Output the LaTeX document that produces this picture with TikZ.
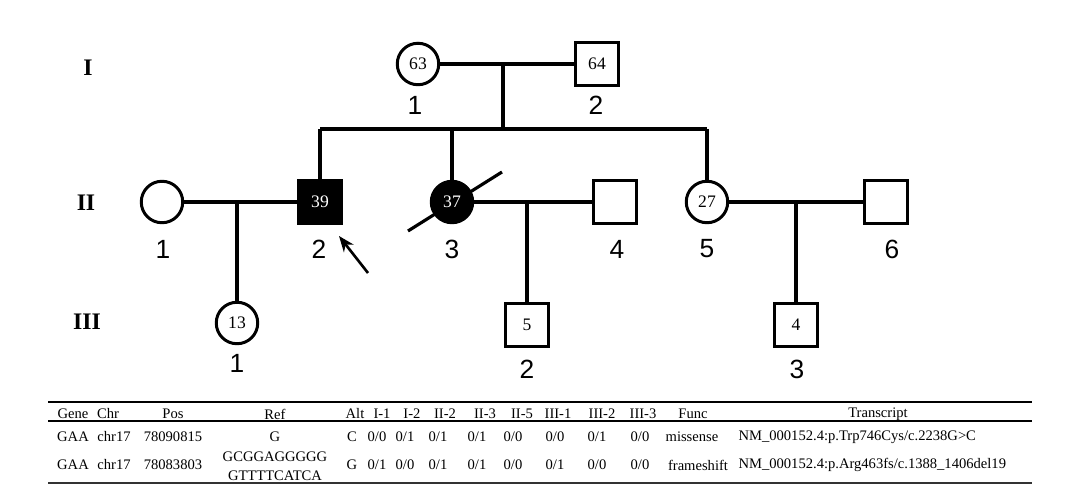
\documentclass[tikz,border=0pt]{standalone}
\usepackage{fontspec}
\setmainfont{Liberation Serif}
\newfontfamily\arialfont{Liberation Sans}
\usetikzlibrary{arrows.meta}

\begin{document}
\begin{tikzpicture}[x=0.02cm, y=-0.02cm,
    line width=1.8pt,
    person/.style={draw, line width=1.7pt, inner sep=0pt, font=\fontsize{10}{12}\selectfont},
    female/.style={person, circle, minimum size=0.83cm},
    male/.style={person, rectangle, minimum size=0.86cm},
    affected/.style={fill=black, text=white},
    idlab/.style={font=\arialfont\fontsize{15}{18}\selectfont},
    genlab/.style={font=\bfseries\fontsize{13.5}{16}\selectfont},
    cell/.style={font=\fontsize{8.3}{11}\selectfont, inner sep=0pt, align=center}]
    \useasboundingbox (0,0) rectangle (1080,503);

    % generations
    \node[genlab] (gI)   at (88,68)  {I};
    \node[genlab] (gII)  at (86,203) {II};
    \node[genlab] (gIII) at (87,322) {III};

    % deceased mark, under the symbol
    \coordinate (sl1) at (408,231);
    \coordinate (sl2) at (502,172);
    \draw (sl1) -- (sl2);

    % generation I
    \node[female] (I1) at (418,64) {63};
    \node[male]   (I2) at (597,64) {64};
    \node[idlab] (I1n) at (415,105) {1};
    \node[idlab] (I2n) at (596,105) {2};

    % generation II
    \node[female]           (II1) at (162,202) {};
    \node[male, affected]   (II2) at (320,202) {39};
    \node[female, affected] (II3) at (452,202) {37};
    \node[male]             (II4) at (615,202) {};
    \node[female]           (II5) at (707,202) {27};
    \node[male]             (II6) at (886,202) {};
    \foreach \k/\x/\t in {II1/163/1, II2/319/2, II3/452/3, II4/617/4, II5/707/5, II6/892/6}
        \node[idlab] (\k n) at (\x,249) {\t};

    % generation III
    \node[female] (III1) at (237,323) {13};
    \node[male]   (III2) at (527,325) {5};
    \node[male]   (III3) at (796,325) {4};
    \node[idlab] (III1n) at (237,363) {1};
    \node[idlab] (III2n) at (527,369) {2};
    \node[idlab] (III3n) at (797,369) {3};

    % couples and descents
    \coordinate (m1) at (503,64);
    \coordinate (s1) at (503,129);
    \coordinate (m2) at (237,202);
    \coordinate (m3) at (527,202);
    \coordinate (m4) at (796,202);
    \foreach \a/\b in {I1/I2, II1/II2, II3/II4, II5/II6}
        \draw (\a) -- (\b);
    \draw (m1) -- (s1);
    \draw (II2 |- s1) -- (II5 |- s1);
    \foreach \k in {II2, II3, II5}
        \draw (\k |- s1) -- (\k);
    \foreach \a/\b in {m2/III1, m3/III2, m4/III3}
        \draw (\a) -- (\b);

    % proband
    \coordinate (pa) at (368,273);
    \coordinate (pb) at (339,236);
    \draw[-{Stealth[length=9pt, width=7pt]}, line width=1.5pt] (pa) -- (pb);

    % table
    \draw[line width=1.4pt] (48,402) -- (1032,402);
    \draw[line width=0.7pt] (48,421) -- (1032,421);
    \draw[line width=1.4pt, black!80] (48,483) -- (1032,483);
    \foreach \x/\t [count=\i] in {73/Gene, 108/Chr, 173/Pos, 275/Ref, 355/Alt, 382/I-1, 412/I-2,
        445/II-2, 485/II-3, 522/II-5, 558/III-1, 602/III-2, 643/III-3, 693/Func, 878/Transcript}
        \node[cell] (h\i) at (\x,414) {\t};
    \foreach \x/\t [count=\i] in {73/GAA, 114/chr17, 173/78090815, 275/G, 352/C, 377/{0/0}, 405/{0/1},
        438/{0/1}, 477/{0/1}, 513/{0/0}, 555/{0/0}, 597/{0/1}, 640/{0/0}, 692/missense}
        \node[cell] (a\i) at (\x,437) {\t};
    \node[cell, anchor=west] (a15) at (737,437) {NM\_000152.4:p.Trp746Cys/c.2238G>C};
    \foreach \x/\t [count=\i] in {73/GAA, 114/chr17, 173/78083803, 352/G, 377/{0/1}, 405/{0/0},
        438/{0/1}, 477/{0/1}, 513/{0/0}, 555/{0/1}, 597/{0/0}, 640/{0/0}, 698/frameshift}
        \node[cell] (b\i) at (\x,465) {\t};
    \node[cell] (bref) at (275,466) {GCGGAGGGGG\\GTTTTCATCA};
    \node[cell, anchor=west] (b15) at (737,465) {NM\_000152.4:p.Arg463fs/c.1388\_1406del19};
\end{tikzpicture}
\end{document}
